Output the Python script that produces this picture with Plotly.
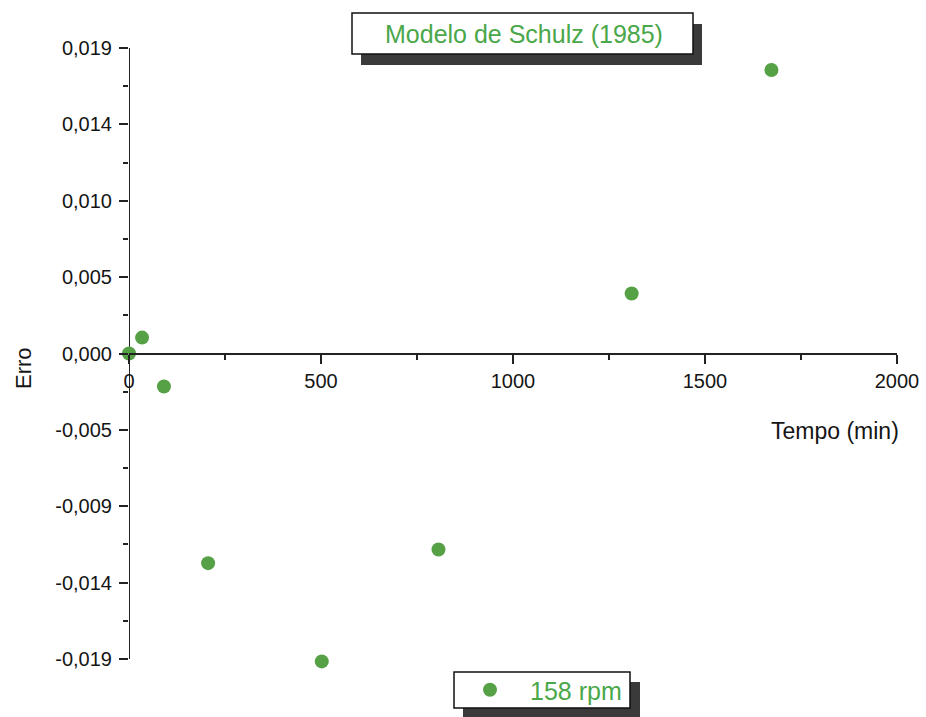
import plotly.graph_objects as go

# ---- data ----
tempo = [0, 34, 91, 206, 502, 806, 1309, 1673]
erro = [0.0, 0.00099, -0.00205, -0.01304, -0.01915, -0.01219, 0.00373, 0.01763]
series_name = "158 rpm"
title_text = "Modelo de Schulz (1985)"

x_ticks = [0, 500, 1000, 1500, 2000]
x_tick_text = ["0", "500", "1000", "1500", "2000"]
x_minor = [250, 750, 1250, 1750]
y_ticks = [-0.019, -0.01425, -0.0095, -0.00475, 0.0, 0.00475, 0.0095, 0.01425, 0.019]
y_tick_text = ["-0,019", "-0,014", "-0,009", "-0,005", "0,000", "0,005", "0,010", "0,014", "0,019"]
y_minor = [-0.016625, -0.011875, -0.007125, -0.002375, 0.002375, 0.007125, 0.011875, 0.016625]

W, H = 926, 717
ML, MR, MT = 129, 29, 48
AXIS_BOTTOM_PX = 659           # pixel row of the -0,019 tick
EXTRA = 7                      # pixels of room below the y axis end
MB = H - AXIS_BOTTOM_PX - EXTRA
PW, PH = W - ML - MR, H - MT - MB
Y_TOP = 0.019
Y_LOW = -0.019 - EXTRA * (0.038 / (AXIS_BOTTOM_PX - MT))

def px(x):
    return (x - ML) / PW

def py(y):
    return (H - MB - y) / PH

GREEN = "#56a046"
TEXT_GREEN = "#4aa74a"
AX = "#222222"
TXT = "#151515"
FONT = "Liberation Sans, Arial, sans-serif"

fig = go.Figure()
fig.add_trace(go.Scatter(
    x=tempo, y=erro, mode="markers", name=series_name,
    marker=dict(size=14, color=GREEN),
    cliponaxis=False,
))

fig.update_layout(
    width=W, height=H,
    margin=dict(l=ML, r=MR, t=MT, b=MB, autoexpand=False),
    paper_bgcolor="white", plot_bgcolor="white",
    font=dict(family=FONT, color=TXT),
    showlegend=True,
    legend=dict(
        x=px(450), y=py(690), xanchor="left", yanchor="middle",
        bgcolor="rgba(0,0,0,0)", borderwidth=0,
        font=dict(size=25, color=TEXT_GREEN, family=FONT),
        itemwidth=70,
    ),
    xaxis=dict(
        range=[0, 2000], anchor="free", position=(0 - Y_LOW) / (Y_TOP - Y_LOW),
        showgrid=False, zeroline=False,
        showline=True, linecolor=AX, linewidth=2,
        tickmode="array", tickvals=x_ticks, ticktext=x_tick_text,
        ticks="outside", ticklen=9, tickwidth=2, tickcolor=AX,
        tickfont=dict(size=20, family=FONT, color=TXT),
        minor=dict(tickmode="array", tickvals=x_minor, ticks="outside",
                   ticklen=5, tickwidth=2, tickcolor=AX),
    ),
    yaxis=dict(
        range=[Y_LOW, Y_TOP],
        showgrid=False, zeroline=False, showline=False,
        tickmode="array", tickvals=y_ticks, ticktext=y_tick_text,
        ticks="outside", ticklen=9, tickwidth=2, tickcolor=AX,
        ticklabelstandoff=3,
        tickfont=dict(size=20, family=FONT, color=TXT),
        minor=dict(tickmode="array", tickvals=y_minor, ticks="outside",
                   ticklen=5, tickwidth=2, tickcolor=AX),
    ),
)

shapes = [
    # y axis line, ending at the last tick
    dict(type="line", xref="x", yref="y", layer="below",
         x0=0, x1=0, y0=-0.019, y1=Y_TOP, line=dict(color=AX, width=2)),
    # title shadow + box
    dict(type="rect", xref="paper", yref="paper", layer="above",
         x0=px(361), x1=px(702), y0=py(65), y1=py(24),
         fillcolor="#3a3a3a", line=dict(width=0)),
    dict(type="rect", xref="paper", yref="paper", layer="above",
         x0=px(352), x1=px(693), y0=py(54), y1=py(13),
         fillcolor="white", line=dict(color="#111", width=1.5)),
    # legend shadow + box
    dict(type="rect", xref="paper", yref="paper", layer="above",
         x0=px(463), x1=px(640), y0=py(720), y1=py(682),
         fillcolor="#3a3a3a", line=dict(width=0)),
    dict(type="rect", xref="paper", yref="paper", layer="above",
         x0=px(454), x1=px(630), y0=py(708), y1=py(672),
         fillcolor="white", line=dict(color="#111", width=1.5)),
]
fig.update_layout(shapes=shapes)

fig.add_annotation(
    text=title_text, xref="paper", yref="paper",
    x=px(524), y=py(34), xanchor="center", yanchor="middle",
    showarrow=False, font=dict(size=25, color=TEXT_GREEN, family=FONT),
)
fig.add_annotation(
    text="Erro", xref="paper", yref="paper",
    x=px(23), y=py(368), xanchor="center", yanchor="middle",
    textangle=-90, showarrow=False,
    font=dict(size=22, color=TXT, family=FONT),
)
fig.add_annotation(
    text="Tempo (min)", xref="paper", yref="paper",
    x=px(835), y=py(431), xanchor="center", yanchor="middle",
    showarrow=False, font=dict(size=23, color=TXT, family=FONT),
)

fig.write_html(
    "out.html",
    config={"displayModeBar": False},
    post_script="document.body.style.margin='0';document.body.style.overflow='hidden';",
)
